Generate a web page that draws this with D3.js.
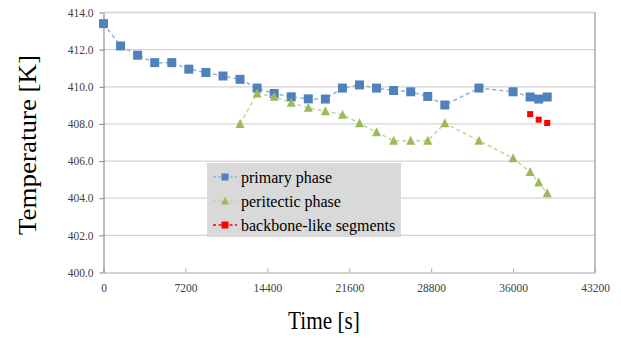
<!DOCTYPE html>
<html>
<head>
<meta charset="utf-8">
<script src="https://cdn.jsdelivr.net/npm/d3@7"></script>
<style>
  body { margin: 0; background: #fff; }
  svg text { font-family: "Liberation Serif", "Times New Roman", serif !important; }
</style>
</head>
<body>
<div id="chart"></div>
<script>
// times in seconds
const primaryTime = [0, 1500, 3000, 4500, 6000, 7500, 9000, 10500, 12000, 13500, 15000, 16500, 18000, 19500,
  21000, 22500, 24000, 25500, 27000, 28500, 30000, 33000, 36000, 37500, 38250, 39000];
const primaryTemp = [413.4, 412.2, 411.7, 411.3, 411.3, 410.95, 410.77, 410.58, 410.4, 409.93, 409.64, 409.46, 409.35, 409.34,
  409.93, 410.1, 409.93, 409.8, 409.73, 409.48, 409.02, 409.93, 409.73, 409.45, 409.34, 409.45];

const periTime = [12000, 13500, 15000, 16500, 18000, 19500, 21000, 22500, 24000, 25500, 27000, 28500, 30000,
  33000, 36000, 37500, 38250, 39000];
const periTemp = [408.0, 409.64, 409.46, 409.14, 408.87, 408.68, 408.5, 408.03, 407.55, 407.1, 407.1, 407.1, 408.03,
  407.1, 406.15, 405.41, 404.84, 404.27];

const backboneTime = [37500, 38250, 39000];
const backboneTemp = [408.53, 408.23, 408.05];

const xTicks = [0, 7200, 14400, 21600, 28800, 36000, 43200];
const yTicks = [400, 402, 404, 406, 408, 410, 412, 414];

const seriesNames = ["primary phase", "peritectic phase", "backbone-like segments"];

const width = 621, height = 338;
const margin = {top: 12.5, right: 26, bottom: 65.5, left: 103.5};
const w = width - margin.left - margin.right;
const h = height - margin.top - margin.bottom;

const svg = d3.select("#chart").append("svg")
  .attr("width", width)
  .attr("height", height);

const g = svg.append("g")
  .attr("transform", `translate(${margin.left}, ${margin.top})`);

const x = d3.scaleLinear().domain([0, 43200]).range([0, w]);
const y = d3.scaleLinear().domain([400, 414]).range([h, 0]);

//gridlines
g.selectAll(".grid")
  .data(yTicks.filter(d => d > 400))
  .join("line")
  .attr("class", "grid")
  .attr("x1", 0).attr("x2", w)
  .attr("y1", d => y(d)).attr("y2", d => y(d))
  .attr("stroke", "#d4d4d4")
  .attr("stroke-width", 1.3);

//right border
g.append("line")
  .attr("x1", w).attr("x2", w)
  .attr("y1", 0).attr("y2", h)
  .attr("stroke", "#7f7f7f");

//x axis
const xAxisGroup = g.append("g")
  .attr("transform", `translate(0, ${h})`)
  .call(d3.axisBottom(x).tickValues(xTicks).tickSizeInner(-4).tickSizeOuter(0).tickPadding(11).tickFormat(d3.format("d")));
xAxisGroup.select(".domain").attr("stroke", "#a6a6a6");
xAxisGroup.selectAll(".tick line").attr("stroke", "#a6a6a6");
xAxisGroup.selectAll("text").attr("font-size", "11.5px").attr("fill", "#404040");

//y axis
const yAxisGroup = g.append("g")
  .call(d3.axisLeft(y).tickValues(yTicks).tickSizeInner(4).tickSizeOuter(0).tickPadding(6).tickFormat(d3.format(".1f")));
yAxisGroup.select(".domain").attr("stroke", "#7f7f7f");
yAxisGroup.selectAll(".tick line").attr("stroke", "#7f7f7f");
yAxisGroup.selectAll("text").attr("font-size", "11.5px").attr("fill", "#404040");

//axis titles
svg.append("text")
  .attr("transform", `translate(36, 145) rotate(-90) scale(1, 0.9)`)
  .attr("text-anchor", "middle")
  .attr("font-size", "27px")
  .attr("fill", "#000")
  .text("Temperature [K]");

svg.append("text")
  .attr("transform", "translate(324, 329) scale(0.85, 1)")
  .attr("text-anchor", "middle")
  .attr("font-size", "25px")
  .attr("fill", "#000")
  .text("Time [s]");

const line = d3.line().x(d => x(d[0])).y(d => y(d[1]));

const series = [
  {name: seriesNames[0], t: primaryTime, v: primaryTemp, color: "#4f81bd", lineColor: "#95b3d7", shape: "square", size: 9},
  {name: seriesNames[1], t: periTime, v: periTemp, color: "#9bbb59", lineColor: "#c3d69b", shape: "triangle", size: 8},
  {name: seriesNames[2], t: backboneTime, v: backboneTemp, color: "#ff0000", lineColor: "none", shape: "square", size: 6}
];

function marker(sel, s) {
  if (s.shape === "square") {
    sel.append("rect")
      .attr("x", -s.size / 2).attr("y", -s.size / 2)
      .attr("width", s.size).attr("height", s.size)
      .attr("fill", s.color);
  } else {
    sel.append("path")
      .attr("d", `M0,${-s.size / 2 - 1}L${s.size / 2 + 0.5},${s.size / 2}L${-s.size / 2 - 0.5},${s.size / 2}Z`)
      .attr("fill", s.color);
  }
}

series.forEach(s => {
  const pts = s.t.map((t, i) => [t, s.v[i]]);
  if (s.lineColor !== "none") {
    g.append("path")
      .datum(pts)
      .attr("d", line)
      .attr("fill", "none")
      .attr("stroke", s.lineColor)
      .attr("stroke-width", 1.5)
      .attr("stroke-dasharray", "4,3");
  }
  g.selectAll(null)
    .data(pts)
    .join("g")
    .attr("transform", d => `translate(${x(d[0])}, ${y(d[1])})`)
    .each(function() { marker(d3.select(this), s); });
});

//legend
const legend = svg.append("g").attr("transform", "translate(207, 163)");
legend.append("rect")
  .attr("width", 194).attr("height", 74)
  .attr("fill", "#d9d9d9");

series.forEach((s, i) => {
  const row = legend.append("g").attr("transform", `translate(0, ${14 + i * 24})`);
  row.append("line")
    .attr("x1", 6).attr("x2", 30)
    .attr("stroke", s.name === seriesNames[2] ? "#ff0000" : s.lineColor)
    .attr("stroke-width", 1.3)
    .attr("stroke-dasharray", "3,2.5");
  const m = row.append("g").attr("transform", "translate(18, 0)");
  marker(m, {shape: s.shape, color: s.color, size: 7});
  row.append("text")
    .attr("x", 34)
    .attr("y", 0)
    .attr("dy", "0.35em")
    .attr("font-size", "16px")
    .attr("fill", "#000")
    .text(s.name);
});
</script>
</body>
</html>
